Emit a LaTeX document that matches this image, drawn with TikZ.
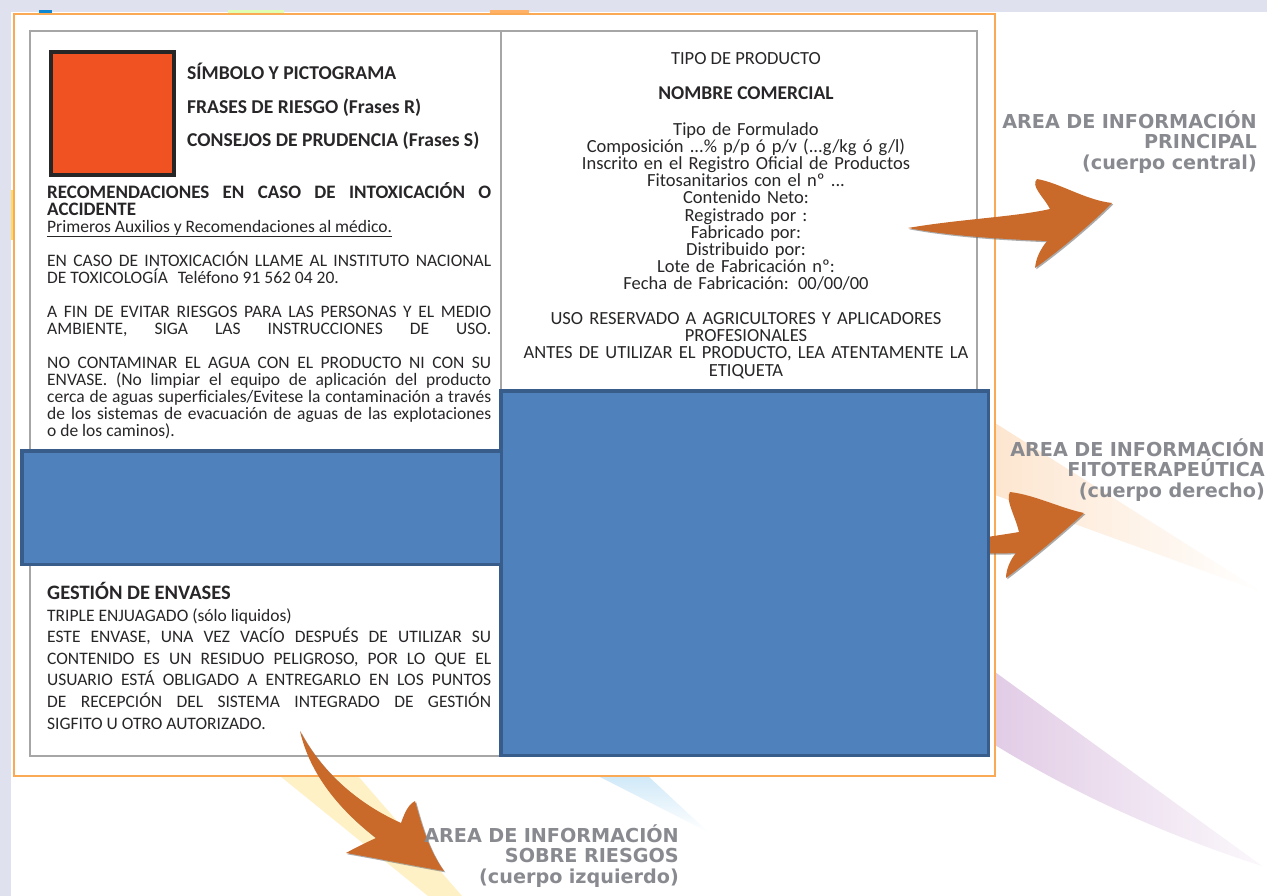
\documentclass[tikz,border=0pt]{standalone}
\usepackage{fontspec}
\setmainfont{Carlito}
\newfontfamily\rotulo{DejaVu Sans}

\definecolor{fondo}{RGB}{223,225,238}
\definecolor{marco}{RGB}{250,170,85}
\definecolor{gris}{RGB}{166,166,166}
\definecolor{rojo}{RGB}{240,82,34}
\definecolor{azul}{RGB}{79,129,189}
\definecolor{azulborde}{RGB}{56,93,138}
\definecolor{flecha}{RGB}{201,106,42}
\definecolor{texto}{RGB}{40,38,40}
\definecolor{rotulogris}{RGB}{136,138,144}
\definecolor{amarillo}{RGB}{255,241,198}
\definecolor{celeste}{RGB}{208,233,248}
\definecolor{melocoton}{RGB}{253,230,208}
\definecolor{lila}{RGB}{226,204,230}

\newcommand\hstrut{\rule{0pt}{15pt}}
\newcommand\rstrut{\rule{0pt}{18pt}}
\newcommand\etiq{\fontsize{17.5}{17}\selectfont\lineskiplimit=-50pt\parindent=0pt}
\newcommand\etiqder{\fontsize{18.5}{17.2}\selectfont\lineskiplimit=-50pt\parindent=0pt}
\newcommand\etiqarea{\rotulo\bfseries\fontsize{19.2}{20.5}\selectfont\lineskiplimit=-50pt}
\newcommand\cabecera[2][19]{{\bfseries\fontsize{#1}{17}\selectfont #2}}

\begin{document}
\begin{tikzpicture}
  [x=1pt,y=-1pt,every node/.style={inner sep=0pt,text=texto},
   izq/.style={anchor=north west,text width=444pt,align=justify,font=\etiq},
   der/.style={anchor=north,text width=460pt,align=center,font=\etiqder},
   titulo/.style={anchor=base west,font=\bfseries\fontsize{19.6}{19}\selectfont},
   area/.style={anchor=north east,text width=330pt,align=right,text=rotulogris,font=\etiqarea},
   caja/.style={fill=azul,draw=azulborde,line width=3.5pt},
   brocha/.style={fill=flecha,preaction={fill=black!60,opacity=.55,
     transform canvas={shift={(1.3pt,-1.3pt)}}}}]
  \useasboundingbox (0,0) rectangle (1267,896);

  % slide background
  \fill[white] (0,0) rectangle (1267,896);
  \fill[fondo] (0,0) rectangle (1267,12);
  \fill[fondo] (0,0) rectangle (11,896);
  \fill[cyan!70!blue] (39,10) rectangle (52,14);
  \fill[green!20!lime!30] (228,10) rectangle (284,14);
  \fill[orange!60] (490,10) rectangle (529,14);
  \fill[yellow!60!orange!60] (11,190) rectangle (14,240);

  % light streaks behind the arrows
  \fill[amarillo] (280,776) -- (358,776) -- (462,896) -- (428,896) -- cycle;
  \shade[top color=celeste,bottom color=white] (598,776) -- (648,776) -- (708,832) -- cycle;
  \shade[left color=melocoton,right color=white] (995,423) -- (995,495) -- (1262,592) -- cycle;
  \shade[left color=lila,right color=lila!15] (995,672) -- (1262,866)
    .. controls (1150,830) and (1060,785) .. (995,745) -- cycle;

  % label frames
  \fill[white] (14,14) rectangle (995,776);
  \draw[marco,line width=2pt] (14,14) rectangle (995,776);
  \draw[gris,line width=2.5pt] (30,31) rectangle (977,756);
  \draw[gris,line width=2.5pt] (501,31) -- (501,756);

  % left body
  \node[draw=black!85,line width=4pt,fill=rojo,minimum size=123pt,anchor=north west]
    (picto) at (49,50) {};
  \node[titulo] (simbolo) at (187,80) {SÍMBOLO Y PICTOGRAMA};
  \node[titulo] (frasesr) at (187,114) {FRASES DE RIESGO (Frases R)};
  \node[titulo] (frasess) at (187,147) {CONSEJOS DE PRUDENCIA (Frases S)};

  \node[izq] (recom) at (47,182) {\hstrut\cabecera{RECOMENDACIONES EN CASO DE INTOXICACIÓN O\linebreak
    ACCIDENTE}\par
    \underline{Primeros Auxilios y Recomendaciones al médico.}\par\vspace{17pt}
    EN CASO DE INTOXICACIÓN LLAME AL INSTITUTO NACIONAL\linebreak
    DE TOXICOLOGÍA\hspace{10pt}Teléfono 91 562 04 20.\par\vspace{17pt}
    A FIN DE EVITAR RIESGOS PARA LAS PERSONAS Y EL MEDIO\linebreak
    \makebox[\hsize][s]{AMBIENTE, SIGA LAS INSTRUCCIONES DE USO.}\par\vspace{17pt}
    NO CONTAMINAR EL AGUA CON EL PRODUCTO NI CON SU\linebreak
    ENVASE. (No limpiar el equipo de aplicación del producto\linebreak
    cerca de aguas superficiales/Evitese la contaminación a través\linebreak
    de los sistemas de evacuación de aguas de las explotaciones\linebreak
    o de los caminos).};

  \node[izq,font=\etiq\fontsize{17.5}{21.6}\selectfont] (envases) at (47,582)
    {\hstrut\cabecera[20.5]{GESTIÓN DE ENVASES}\par
    TRIPLE ENJUAGADO (sólo liquidos)\par
    ESTE ENVASE, UNA VEZ VACÍO DESPUÉS DE UTILIZAR SU\linebreak
    CONTENIDO ES UN RESIDUO PELIGROSO, POR LO QUE EL\linebreak
    USUARIO ESTÁ OBLIGADO A ENTREGARLO EN LOS PUNTOS\linebreak
    DE RECEPCIÓN DEL SISTEMA INTEGRADO DE GESTIÓN\linebreak
    SIGFITO U OTRO AUTORIZADO.};

  % central body
  \node[anchor=base,font=\fontsize{18.5}{18}\selectfont] (tipo) at (746,65) {TIPO DE PRODUCTO};
  \node[anchor=base,font=\bfseries\fontsize{19.5}{18}\selectfont] (nombre) at (746,100)
    {NOMBRE COMERCIAL};
  \node[der] (datos) at (746,120) {\hstrut Tipo de Formulado\\
    Composición ...\% p/p ó p/v (...g/kg ó g/l)\\
    Inscrito en el Registro Oficial de Productos\\
    Fitosanitarios con el nº ...\\
    Contenido Neto:\\
    Registrado por :\\
    Fabricado por:\\
    Distribuido por:\\
    Lote de Fabricación\hspace{6pt}nº:\\
    Fecha de Fabricación: 00/00/00};
  \node[der,font=\etiqder\fontsize{18.5}{17.3}\selectfont] (uso) at (746,309)
    {\hstrut USO RESERVADO A AGRICULTORES Y APLICADORES\\
    PROFESIONALES\\
    ANTES DE UTILIZAR EL PRODUCTO, LEA ATENTAMENTE LA\\
    ETIQUETA};

  % arrow to the right body (under the box)
  \fill[brocha] (935,548) .. controls (960,540) and (990,537) .. (1019,532)
    .. controls (1015,515) and (1005,500) .. (1010,492)
    .. controls (1035,495) and (1060,508) .. (1084,513)
    .. controls (1060,535) and (1030,560) .. (1006,578)
    .. controls (1006,570) and (1010,560) .. (1016,553)
    .. controls (990,554) and (960,553) .. (935,548) -- cycle;

  % hidden areas
  \draw[caja] (500.75,390.75) rectangle (988.25,755.25);
  \draw[caja] (21.75,450.75) rectangle (501.25,564.25);

  % arrow to the central body
  \fill[brocha] (908,228) .. controls (960,219) and (1015,217) .. (1050,209)
    .. controls (1044,197) and (1030,186) .. (1037,179)
    .. controls (1060,183) and (1085,200) .. (1112,203)
    .. controls (1090,225) and (1060,250) .. (1035,268)
    .. controls (1036,258) and (1040,250) .. (1047,241)
    .. controls (1000,239) and (950,236) .. (908,228) -- cycle;

  % arrow to the left body
  \fill[brocha] (300,731) .. controls (318,765) and (350,800) .. (401,823)
    .. controls (405,812) and (408,805) .. (415,801)
    .. controls (419,815) and (427,848) .. (444,871)
    .. controls (410,865) and (375,858) .. (346,853)
    .. controls (355,848) and (365,843) .. (376,838)
    .. controls (340,810) and (310,775) .. (300,731) -- cycle;

  % area labels
  \node[area] (principal) at (1257,110) {\rstrut AREA DE INFORMACIÓN\\ PRINCIPAL\\ (cuerpo central)};
  \node[area] (fitoter) at (1265,438) {\rstrut AREA DE INFORMACIÓN\\ FITOTERAPEÚTICA\\ (cuerpo derecho)};
  \node[area] (riesgos) at (679,824) {\rstrut AREA DE INFORMACIÓN\\ SOBRE RIESGOS\\ (cuerpo izquierdo)};
\end{tikzpicture}
\end{document}
